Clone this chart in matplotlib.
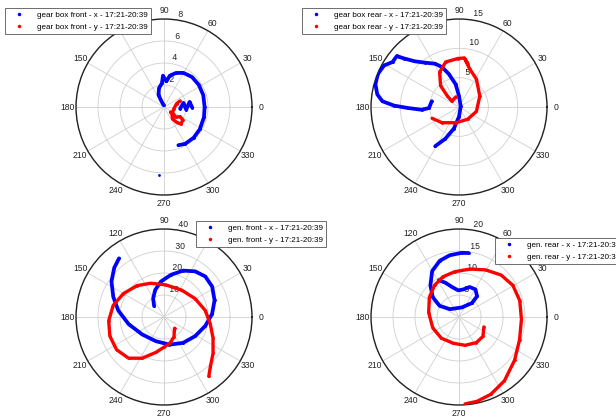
import numpy as np
import matplotlib
matplotlib.use("Agg")
import matplotlib.pyplot as plt
from matplotlib.lines import Line2D

plt.rcParams['font.family'] = ['Liberation Sans', 'DejaVu Sans']
nan = np.nan

# gear box front (theta in degrees, r)
gbfXTheta = [-69.4, -60.1, -46, -32, -14.4, 0, 16.9, 32.5, 47, 60.3, 70.7, 79.5, 84.7, 91.9, 94.9, 105, 114.6, 114, 101,
             nan, -6, 11.9, -7, 11.3, -1.4, nan, 265.7]
gbfXR = [3.71, 3.86, 3.88, 3.83, 3.75, 3.69, 3.73, 3.75, 3.73, 3.57, 3.28, 2.90, 2.34, 2.85, 2.18, 1.77, 1.19, 0.61, 0.16,
         nan, 1.47, 1.81, 2.03, 2.37, 2.57, nan, 6.16]
gbfYTheta = [21, 15.1, -9.8, -41, -54.5, -50.6, -45, -34.6, -30.8, -40.6, -36.5, -38.3]
gbfYR = [1.56, 1.19, 0.91, 0.95, 1.33, 1.81, 2.19, 2.07, 1.70, 1.43, 1.04, 0.75]

# gear box rear
gbrXTheta = [238.7, 246.7, 256.6, 270, 382, 450, 458.5, 467.2, 473.1, 478.9, 487.6, 494.1, 498.4, 500, 500.5,
             505.9, 511, 517.8, 524.7, 531.2, 535.7, 538.8, 541.1, 544.2, 542, 528]
gbrXR = [7.83, 5.88, 3.77, 1.63, 0.31, 1.86, 3.94, 5.9, 7.4, 8.43, 9.54, 10.85, 12.44, 13.29, 13.7,
         13.69, 14.6, 14.94, 14.77, 14.1, 13.1, 11.05, 8.72, 6.41, 5.12, 4.75]
gbrYTheta = [202.7, 222.6, 259, 304.8, 345.7, 387.7, 418.1, 434.5, 442.6, 438.3, 443.7, 451.6, 466.5, 479.2, 491,
             496.7, 501, 466.7]
gbrYR = [4.98, 3.95, 2.73, 2.55, 3.06, 4.0, 5.61, 6.76, 8.15, 7.48, 8.42, 8.26, 8.0, 6.79, 4.78,
         2.71, 1.57, 1.82]

# generator front
genfXTheta = [132.2, 120.6, 108.2, 95, 80.4, 67.6, 55.8, 44.5, 32.3, 18.3, 3.7, -12.1, -31.6, -53.6, -78.8,
              -108.7, -141.4, -168.6, -188.1, -201.6, -214, -224.6, -232.5]
genfXR = [6.7, 9.73, 12.9, 16.2, 19.5, 22.8, 25.1, 26.3, 25.9, 24.2, 21.9, 19.2, 16.6, 14.6, 12.8,
          11.6, 12.7, 16.4, 21.0, 24.8, 28.8, 31.8, 33.6]
genfYTheta = [-46.8, -63.4, -76.7, -89.3, -103, -117.9, -130.7, -145.4, -160.6, -176.1, -192.9, -210.1, -229.3,
              -248.5, -273.7, -302.8, -329.3, -351.1, -368.8, -383, -396.4, -407, -413]
genfYR = [7.0, 10.1, 12.1, 13.6, 16.5, 21.2, 24.7, 26.2, 26.1, 25.2, 23.7, 21.3, 18.8,
          16.5, 14.6, 14.6, 16.4, 19.0, 21.3, 24.2, 27.7, 30.9, 33.8]

# generator rear
genrXTheta = [81.5, 87.6, 98.5, 109, 120.3, 132.1, 143, 150, 139.6, 74, 47.2, 49, 59.3, 70.6, 80.9, 91.5,
              102.3, 111.3, 118.6]
genrXR = [14.7, 14.6, 14.2, 13.5, 12.1, 9.7, 7.47, 5.1, 2.75, 2.26, 4.33, 6.26, 7.3, 7.23, 6.36, 6.05,
          6.9, 8.32, 9.54]
genrYTheta = [-21.7, -39.2, -55.8, -77.8, -102.4, -130, -157.4, -188.3, -213.7, -232.3, -248.3, -264.8, -283.2,
              -299.5, -315, -329.5, -344.9, -362.2, -380.6, -397.9, -414.6, -427.7, -437.9, -446]
genrYR = [6.09, 7.0, 7.03, 6.58, 6.11, 6.27, 6.46, 6.97, 8.1, 9.1, 9.85, 10.35, 11.2,
          12.3, 13.5, 14.2, 14.3, 14.2, 14.7, 16.0, 17.8, 19.0, 19.6, 19.8]

panels = [
    dict(pos=[0.1234, 0.5357], rmax=8, rinc=2, x=(gbfXTheta, gbfXR), y=(gbfYTheta, gbfYR), hide=[120],
         names=['gear box front - x - 17:21-20:39', 'gear box front - y - 17:21-20:39'], leg=(5, 8)),
    dict(pos=[0.6023, 0.5357], rmax=15, rinc=5, x=(gbrXTheta, gbrXR), y=(gbrYTheta, gbrYR), hide=[120],
         names=['gear box rear - x - 17:21-20:39', 'gear box rear - y - 17:21-20:39'], leg=(302, 8)),
    dict(pos=[0.1234, 0.0357], rmax=40, rinc=10, x=(genfXTheta, genfXR), y=(genfYTheta, genfYR), hide=[60],
         names=['gen. front - x - 17:21-20:39', 'gen. front - y - 17:21-20:39'], leg=(196, 221)),
    dict(pos=[0.6023, 0.0357], rmax=20, rinc=5, x=(genrXTheta, genrXR), y=(genrYTheta, genrYR), hide=[],
         names=['gen. rear - x - 17:21-20:39', 'gen. rear - y - 17:21-20:39'], leg=(495, 238)),
]

fig = plt.figure(figsize=(6.16, 4.2), dpi=100)
fs = 6.2

for p in panels:
    ax = fig.add_axes([p['pos'][0], p['pos'][1], 176 / 616, 176 / 420], projection='polar')
    ax.set_ylim(0, p['rmax'])
    ax.set_thetagrids(range(0, 360, 30), labels=[])
    ax.set_rgrids(np.arange(p['rinc'], p['rmax'] + 0.1, p['rinc']), labels=[])
    ax.grid(color='#cfcfcf', lw=0.6)
    ax.spines['polar'].set_color('#222222')
    ax.spines['polar'].set_linewidth(1.0)

    # angle labels outside the rim (the legend sits over some), radius labels along 82 degrees
    for a in range(0, 360, 30):
        if a in p['hide']:
            continue
        ax.text(np.deg2rad(a), 1.1 * p['rmax'], str(a), ha='center', va='center', fontsize=fs, color='#222222')
    for r in np.arange(p['rinc'], p['rmax'] + 0.1, p['rinc']):
        ax.text(np.deg2rad(82), r + p['rinc'] / 20, ' ' + str(int(r)), ha='left', va='bottom',
                fontsize=fs, color='#222222')

    ax.plot(np.deg2rad(p['x'][0]), p['x'][1], color='blue', lw=2.7, marker='.', ms=2,
            solid_capstyle='round', zorder=3)
    ax.plot(np.deg2rad(p['y'][0]), p['y'][1], color='red', lw=2.4, marker='.', ms=2,
            solid_capstyle='round', zorder=3)

    handles = [Line2D([], [], ls='none', marker='.', ms=3, color='blue'),
               Line2D([], [], ls='none', marker='.', ms=3, color='red')]
    leg = fig.legend(handles, p['names'], loc='upper left',
                     bbox_to_anchor=(p['leg'][0] / 616, 1 - p['leg'][1] / 420),
                     fontsize=5.8, frameon=True, fancybox=False, framealpha=1,
                     edgecolor='#555555', borderaxespad=0, borderpad=0.45,
                     handlelength=2.6, handletextpad=0.9, labelspacing=0.45)
    leg.get_frame().set_linewidth(0.6)

fig.savefig('out.png', dpi=100)
